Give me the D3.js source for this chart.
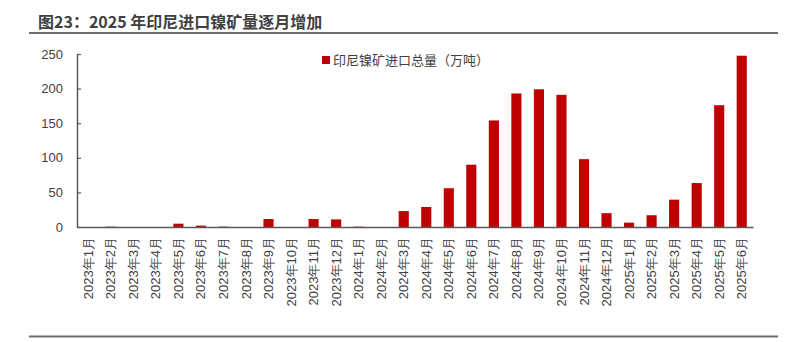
<!DOCTYPE html>
<html><head><meta charset="utf-8">
<script src="https://cdn.jsdelivr.net/npm/d3@7"></script>
<style>
html,body{margin:0;padding:0;background:#fff;}
svg{display:block;font-family:"Noto Sans CJK SC","Noto Sans",sans-serif;}
</style></head>
<body><svg id="c" width="789" height="342"></svg>
<script>
const categories = ["2023年1月","2023年2月","2023年3月","2023年4月","2023年5月","2023年6月","2023年7月","2023年8月","2023年9月","2023年10月","2023年11月","2023年12月",
"2024年1月","2024年2月","2024年3月","2024年4月","2024年5月","2024年6月","2024年7月","2024年8月","2024年9月","2024年10月","2024年11月","2024年12月",
"2025年1月","2025年2月","2025年3月","2025年4月","2025年5月","2025年6月"];
const imports = [0,0.5,0,0,4.8,2,0.5,0,11.5,0,11.5,11,0.5,0,23,29,56,90,154,193,199,191,98,20,6.3,17,39.5,63.5,176,247.5];
const yTicks = [0,50,100,150,200,250];
const seriesName = "印尼镍矿进口总量（万吨）";
const title = "图23：2025 年印尼进口镍矿量逐月增加";

const svg = d3.select("#c");
const L=77, R=753, T=54, B=227;
const x = d3.scaleBand().domain(categories).range([L,R]).paddingInner(0.55).paddingOuter(0.275);
const y = d3.scaleLinear().domain([0,250]).range([B,T]);

// title
svg.append("text").attr("x",38).attr("y",28).attr("font-size",16).attr("font-weight","bold")
  .attr("fill","#404040").text(title);
svg.append("line").attr("x1",29).attr("x2",778).attr("y1",33).attr("y2",33)
  .attr("stroke","#6d6d6d").attr("stroke-width",2);
svg.append("line").attr("x1",29).attr("x2",778).attr("y1",336.5).attr("y2",336.5)
  .attr("stroke","#6d6d6d").attr("stroke-width",2);

// bars
svg.append("g").selectAll("rect").data(imports).join("rect")
  .attr("x",(d,i)=>x(categories[i])).attr("width",x.bandwidth())
  .attr("y",d=>y(d)).attr("height",d=>B-y(d)).attr("fill","#C00000");

// y axis
const ya = svg.append("g").attr("transform",`translate(${L},0)`)
  .call(d3.axisLeft(y).tickValues(yTicks).tickSizeInner(-4).tickSizeOuter(0).tickPadding(14));
ya.select(".domain").attr("stroke","#595959").attr("stroke-width",1.5);
ya.selectAll(".tick line").attr("stroke","#595959").attr("stroke-width",1.2);
ya.selectAll("text").attr("font-size",13).attr("fill","#404040").attr("font-family",null);

// x axis
const xa = svg.append("g").attr("transform",`translate(0,${B})`)
  .call(d3.axisBottom(x).tickSize(0).tickSizeOuter(0));
xa.select(".domain").attr("stroke","#595959").attr("stroke-width",1.5);
xa.selectAll("text").attr("font-size",13).attr("fill","#404040").attr("font-family",null)
  .attr("transform","rotate(-90)").attr("text-anchor","end")
  .attr("x",-10).attr("y",0).attr("dy","0.35em");

// legend
svg.append("rect").attr("x",322).attr("y",56).attr("width",8).attr("height",8).attr("fill","#C00000");
svg.append("text").attr("x",333).attr("y",65).attr("font-size",13).attr("fill","#404040").text(seriesName);
</script></body></html>
